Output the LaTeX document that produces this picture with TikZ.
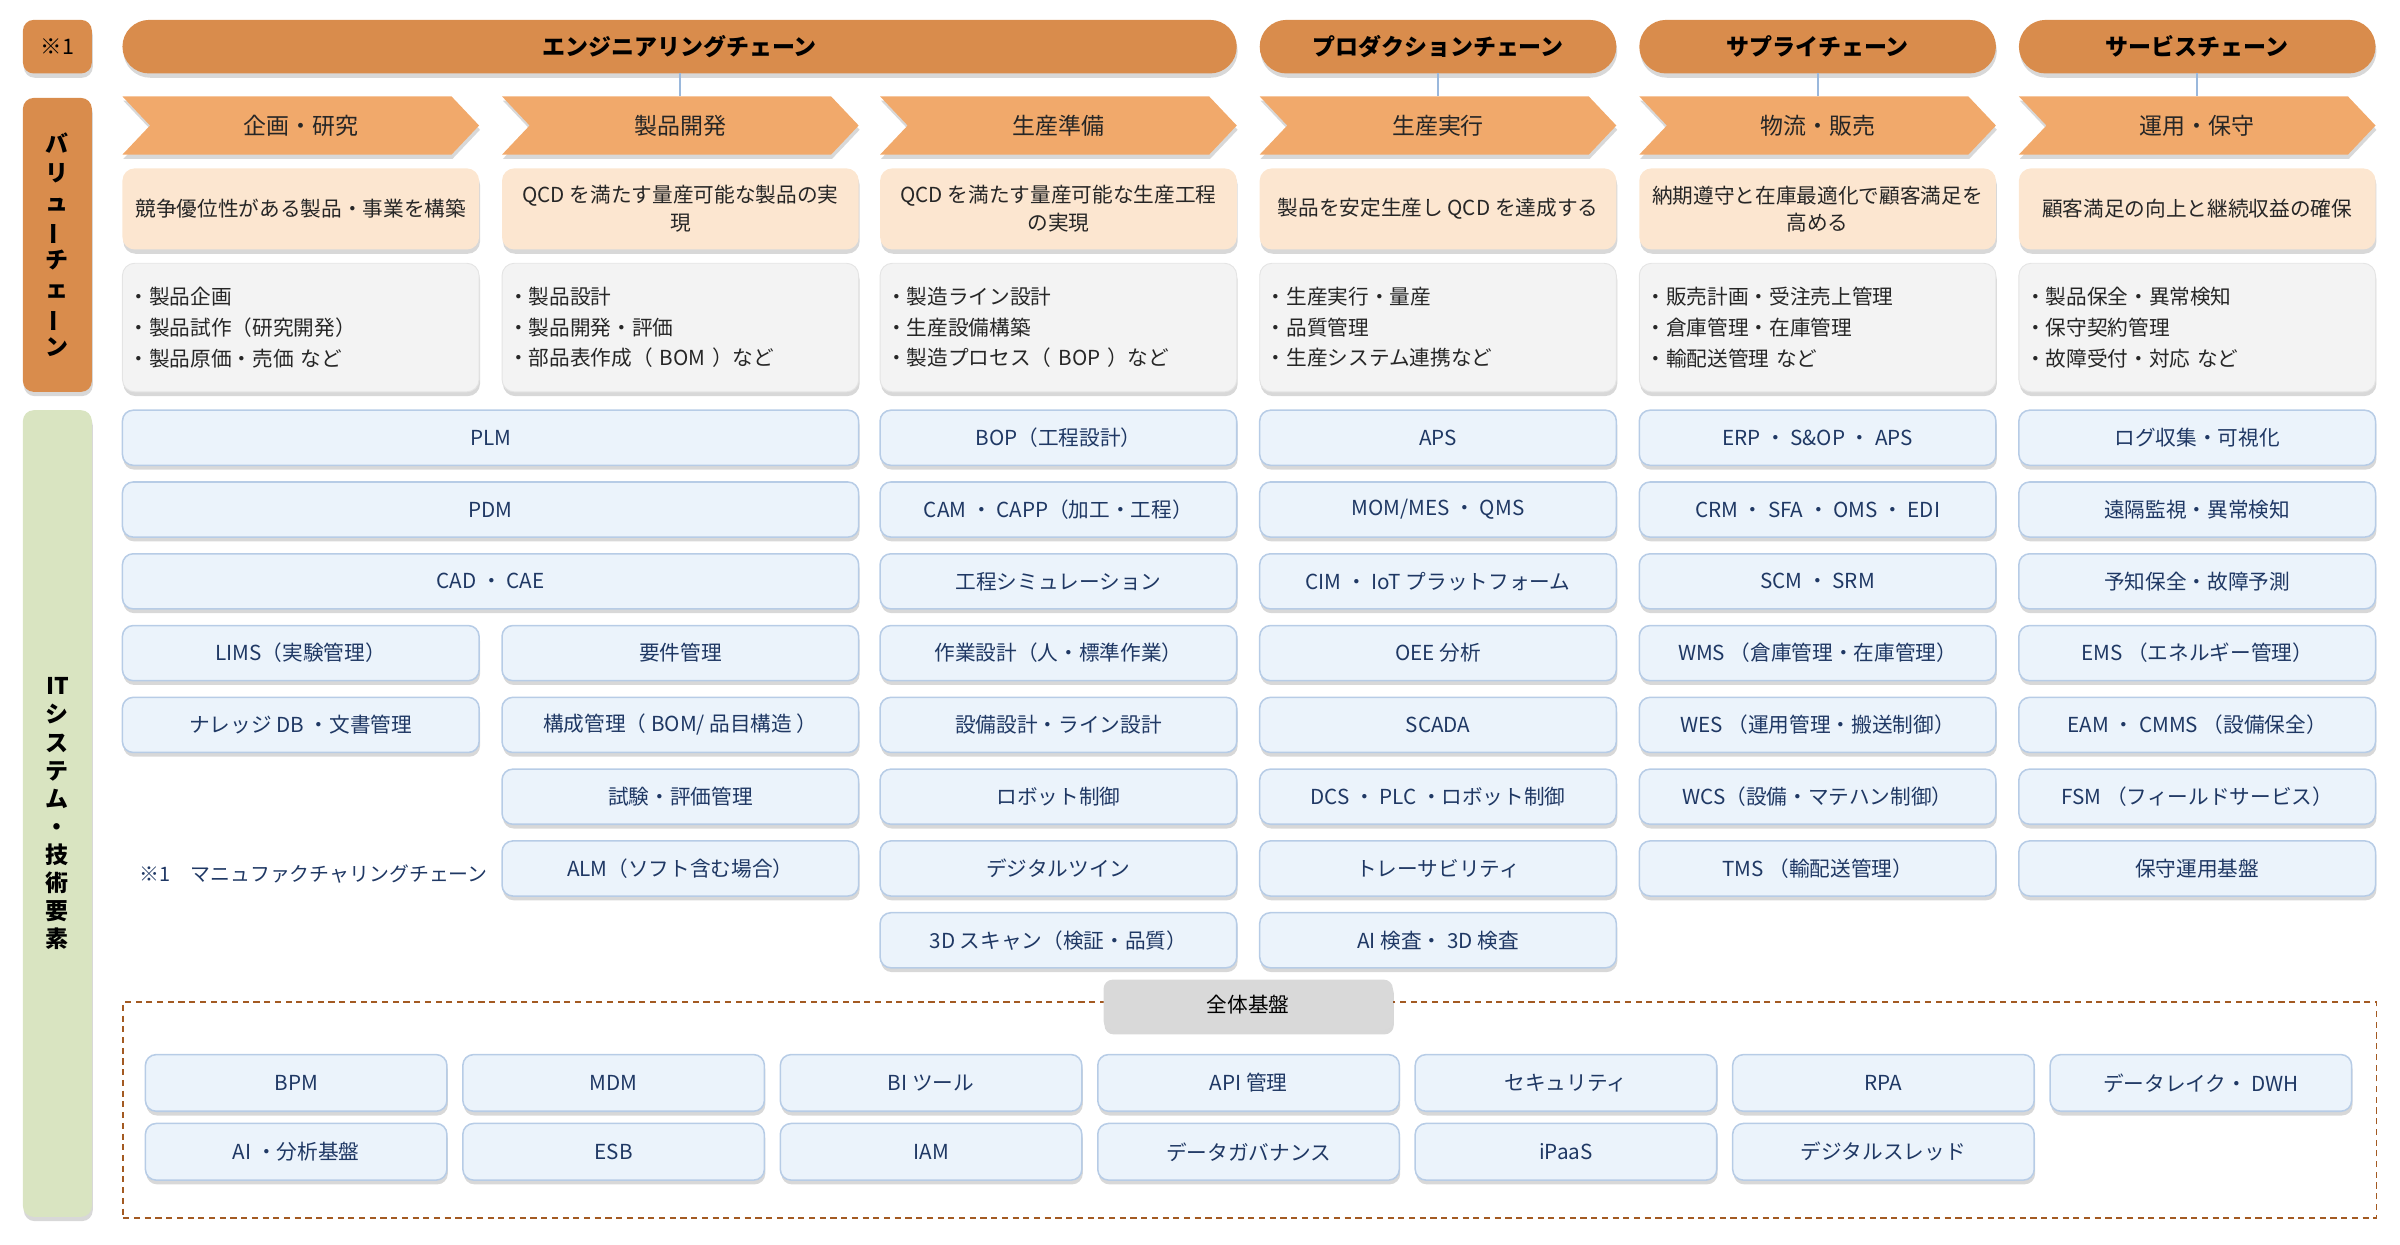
\documentclass[tikz,border=0pt]{standalone}
\usepackage{fontspec}
\setmainfont{Noto Sans CJK JP}
\usepackage{graphicx}
\usetikzlibrary{shadows}
\pgfdeclarelayer{bg}
\pgfsetlayers{bg,main}
\definecolor{hdrorange}{HTML}{D98C4C}
\definecolor{chevfill}{HTML}{F1A96B}
\definecolor{goalfill}{HTML}{FCE6D0}
\definecolor{detfill}{HTML}{F3F3F3}
\definecolor{detline}{HTML}{E4E4E4}
\definecolor{itgreen}{HTML}{D9E4C1}
\definecolor{itfill}{HTML}{EBF3FB}
\definecolor{itline}{HTML}{B7CCE6}
\definecolor{ittext}{HTML}{1F3864}
\definecolor{connline}{HTML}{9AB8DC}
\definecolor{dashbrown}{HTML}{A35A22}
\definecolor{tabgray}{HTML}{D9D9D9}
\definecolor{txtdark}{HTML}{262626}
\newcommand{\mytatebar}{\rotatebox[origin=c]{90}{ー}}
\tikzset{
 shd/.style={drop shadow={shadow xshift=0.6pt, shadow yshift=-2.8pt, opacity=0.22, fill=black!70}},
 basebox/.style={anchor=north west, inner sep=0pt, outer sep=0pt, shd},
 hdr/.style={basebox, fill=hdrorange, rounded corners=17.5pt, minimum height=35pt, font=\fontsize{15}{18}\selectfont\bfseries, text=black},
 sidebox/.style={basebox, fill=hdrorange, rounded corners=7pt, minimum width=45pt},
 chevnode/.style={anchor=north west, inner sep=0pt, outer sep=0pt, minimum width=233pt, minimum height=38pt, font=\fontsize{15}{18}\selectfont, text=txtdark},
 goalbox/.style={basebox, fill=goalfill, rounded corners=8pt, minimum width=233pt, minimum height=53pt, align=center, font=\fontsize{13.5}{18}\selectfont, text=txtdark},
 detbox/.style={basebox, fill=detfill, draw=detline, line width=0.6pt, rounded corners=8pt, minimum width=233pt, minimum height=84pt, text width=225pt, inner xsep=4pt, align=left, font=\fontsize{13.5}{20}\selectfont, text=txtdark},
 itb/.style={basebox, fill=itfill, draw=itline, line width=1pt, rounded corners=7pt, minimum height=36pt, font=\fontsize{13.5}{16}\selectfont, text=ittext},
 itc/.style={itb, minimum width=233pt},
 fb/.style={itb, minimum width=197pt, minimum height=37pt},
 conn/.style={draw=connline, line width=1.3pt},
 vtext/.style={align=center, inner sep=0pt, font=\fontsize{15}{19}\selectfont\bfseries, text=black},
}
\begin{document}
\begin{tikzpicture}[x=1pt,y=-1pt]
\useasboundingbox (0,0) rectangle (1568,813);

% left side column
\node[sidebox, minimum height=35pt, font=\fontsize{14}{16}\selectfont] (n1) at (15,13) {※1};
\node[sidebox, minimum height=192pt] (vcl) at (15,64) {};
\node[vtext] (vclt) at (vcl.center) {バ\\リ\\ュ\\\mytatebar\\チ\\ェ\\\mytatebar\\ン};
\node[sidebox, fill=itgreen, minimum height=527pt] (vit) at (15,268) {};
\node[vtext, font=\fontsize{15}{18.3}\selectfont\bfseries] (vitt) at (vit.center) {IT\\シ\\ス\\テ\\ム\\・\\技\\術\\要\\素};

% chain headers
\node[hdr, minimum width=728pt] (hE) at (80,13) {エンジニアリングチェーン};
\node[hdr, minimum width=233pt] (hP) at (823,13) {プロダクションチェーン};
\node[hdr, minimum width=233pt] (hS) at (1071,13) {サプライチェーン};
\node[hdr, minimum width=233pt] (hV) at (1319,13) {サービスチェーン};

% chevrons (value chain steps)
\node[chevnode] (v1) at (80,63) {企画・研究};
\node[chevnode] (v2) at (328,63) {製品開発};
\node[chevnode] (v3) at (575,63) {生産準備};
\node[chevnode] (v4) at (823,63) {生産実行};
\node[chevnode] (v5) at (1071,63) {物流・販売};
\node[chevnode] (v6) at (1319,63) {運用・保守};
\begin{pgfonlayer}{bg}
\foreach \n in {v1,v2,v3,v4,v5,v6} {
 \fill[fill=chevfill, shd] (\n.north west) -- ([xshift=-18pt]\n.north east) -- (\n.east) -- ([xshift=-18pt]\n.south east) -- (\n.south west) -- ([xshift=18pt]\n.west) -- cycle;
}
\end{pgfonlayer}

% connectors
\draw[conn] (hE.south) -- (hE.south |- v2.north);
\draw[conn] (hP.south) -- (hP.south |- v4.north);
\draw[conn] (hS.south) -- (hS.south |- v5.north);
\draw[conn] (hV.south) -- (hV.south |- v6.north);

% goals
\node[goalbox] (g1) at (80,110) {競争優位性がある製品・事業を構築};
\node[goalbox] (g2) at (328,110) {QCD を満たす量産可能な製品の実\\現};
\node[goalbox] (g3) at (575,110) {QCD を満たす量産可能な生産工程\\の実現};
\node[goalbox] (g4) at (823,110) {製品を安定生産し QCD を達成する};
\node[goalbox] (g5) at (1071,110) {納期遵守と在庫最適化で顧客満足を\\高める};
\node[goalbox] (g6) at (1319,110) {顧客満足の向上と継続収益の確保};

% details
\node[detbox] (d1) at (80,172) {・製品企画\\・製品試作（研究開発）\\・製品原価・売価 など};
\node[detbox] (d2) at (328,172) {・製品設計\\・製品開発・評価\\・部品表作成（ BOM ）など};
\node[detbox] (d3) at (575,172) {・製造ライン設計\\・生産設備構築\\・製造プロセス（ BOP ）など};
\node[detbox] (d4) at (823,172) {・生産実行・量産\\・品質管理\\・生産システム連携など};
\node[detbox] (d5) at (1071,172) {・販売計画・受注売上管理\\・倉庫管理・在庫管理\\・輸配送管理 など};
\node[detbox] (d6) at (1319,172) {・製品保全・異常検知\\・保守契約管理\\・故障受付・対応 など};

% IT systems: columns 1-2
\node[itb, minimum width=481pt] (w1) at (80,268) {PLM};
\node[itb, minimum width=481pt] (w2) at (80,314.9) {PDM};
\node[itb, minimum width=481pt] (w3) at (80,361.8) {CAD ・ CAE};
\node[itc] (a4) at (80,408.7) {LIMS（実験管理）};
\node[itc] (a5) at (80,455.6) {ナレッジ DB ・文書管理};
\node[itc] (b4) at (328,408.7) {要件管理};
\node[itc] (b5) at (328,455.6) {構成管理（ BOM/ 品目構造 ）};
\node[itc] (b6) at (328,502.5) {試験・評価管理};
\node[itc] (b7) at (328,549.4) {ALM（ソフト含む場合）};
\node[anchor=west, inner sep=0pt, font=\fontsize{13}{16}\selectfont, text=ittext] (note) at (91,571) {※1　マニュファクチャリングチェーン};

% column 3
\foreach \t [count=\i] in {{BOP（工程設計）},{CAM ・ CAPP（加工・工程）},{工程シミュレーション},{作業設計（人・標準作業）},{設備設計・ライン設計},{ロボット制御},{デジタルツイン},{3D スキャン（検証・品質）}}
 \node[itc] (c3r\i) at (575,{268+46.9*(\i-1)}) {\t};
% column 4
\foreach \t [count=\i] in {{APS},{MOM/MES ・ QMS},{CIM ・ IoT プラットフォーム},{OEE 分析},{SCADA},{DCS ・ PLC ・ロボット制御},{トレーサビリティ},{AI 検査・ 3D 検査}}
 \node[itc] (c4r\i) at (823,{268+46.9*(\i-1)}) {\t};
% column 5
\foreach \t [count=\i] in {{ERP ・ S\&OP ・ APS},{CRM ・ SFA ・ OMS ・ EDI},{SCM ・ SRM},{WMS （倉庫管理・在庫管理）},{WES （運用管理・搬送制御）},{WCS（設備・マテハン制御）},{TMS （輸配送管理）}}
 \node[itc] (c5r\i) at (1071,{268+46.9*(\i-1)}) {\t};
% column 6
\foreach \t [count=\i] in {{ログ収集・可視化},{遠隔監視・異常検知},{予知保全・故障予測},{EMS （エネルギー管理）},{EAM ・ CMMS （設備保全）},{FSM （フィールドサービス）},{保守運用基盤}}
 \node[itc] (c6r\i) at (1319,{268+46.9*(\i-1)}) {\t};

% common platform
\node[anchor=north west, inner sep=0pt, draw=dashbrown, line width=1.1pt, dash pattern=on 4pt off 3pt, minimum width=1472pt, minimum height=141pt] (base) at (80,654) {};
\node[basebox, fill=tabgray, rounded corners=6pt, minimum width=189pt, minimum height=33pt, font=\fontsize{13.5}{16}\selectfont, text=black] (tab) at (721,640) {全体基盤};
\foreach \t [count=\i] in {{BPM},{MDM},{BI ツール},{API 管理},{セキュリティ},{RPA},{データレイク・ DWH}}
 \node[fb] (f1r\i) at ({95+207.4*(\i-1)},689) {\t};
\foreach \t [count=\i] in {{AI ・分析基盤},{ESB},{IAM},{データガバナンス},{iPaaS},{デジタルスレッド}}
 \node[fb] (f2r\i) at ({95+207.4*(\i-1)},734) {\t};
\end{tikzpicture}
\end{document}
